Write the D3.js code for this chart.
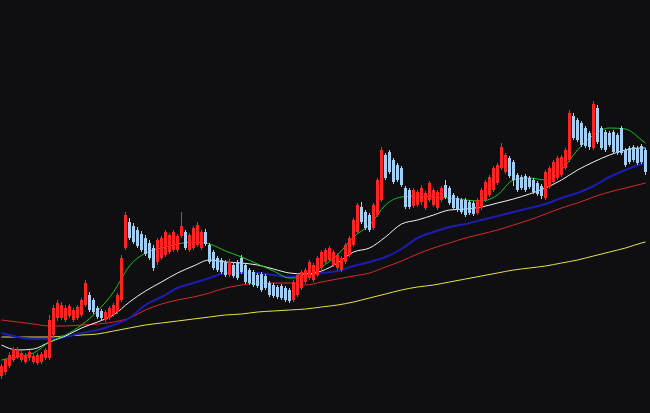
<!DOCTYPE html>
<html><head><meta charset="utf-8">
<script src="https://cdn.jsdelivr.net/npm/d3@7"></script>
<style>html,body{margin:0;padding:0;background:#0f0f12;overflow:hidden}</style>
</head><body>
<svg id="c" width="650" height="413"></svg>
<script>
// OHLC candles (price units)
const open  = [3.7,4.1,4.7,5.3,5.6,5.3,5.1,5.5,5.1,5.0,5.1,5.5,5.5,7.8,9.5,9.5,9.3,9.7,9.3,9.5,9.8,10.8,11.8,11.3,10.5,10.2,9.3,9.5,9.8,10.1,11.3,16.5,19.1,18.7,18.3,17.9,17.5,17.0,16.5,15.1,15.5,15.8,16.1,16.3,16.3,17.7,18.1,16.3,16.5,16.8,16.5,18.1,16.8,16.1,15.5,15.3,15.1,13.8,14.8,15.1,15.5,14.8,14.3,14.1,13.8,13.9,13.7,13.0,12.8,12.6,12.7,12.5,12.3,11.3,11.8,12.5,13.1,13.5,13.3,13.8,14.5,15.1,15.3,14.8,14.5,14.3,15.1,15.8,16.8,18.1,20.6,20.1,19.8,18.5,19.8,21.3,25.8,26.1,25.3,24.8,24.5,22.5,22.3,20.7,20.8,21.1,20.5,21.3,20.8,20.5,21.3,22.8,22.5,21.8,21.5,21.3,21.3,21.1,21.0,20.0,20.5,21.3,21.8,22.3,23.0,24.5,24.1,25.5,25.1,23.8,23.6,23.7,23.5,23.3,23.0,22.7,21.5,22.6,23.1,23.5,23.8,24.5,25.3,29.7,29.3,29.0,28.5,28.0,26.5,30.5,28.5,28.1,28.0,28.1,27.8,28.5,26.3,26.5,26.6,26.5,26.7,26.3];
const high  = [4.9,5.5,6.1,6.6,6.6,6.2,6.0,6.3,5.9,6.0,6.1,6.5,9.8,10.8,11.3,11.1,10.8,10.9,10.5,10.8,11.5,13.3,12.1,11.5,10.7,10.4,10.3,10.7,11.0,12.0,15.8,20.1,19.5,19.0,18.6,18.2,17.8,17.3,16.8,17.5,17.7,18.3,18.0,18.3,17.9,20.1,18.3,18.0,18.7,19.1,18.3,18.4,17.0,16.3,15.7,15.5,15.3,15.4,15.0,15.3,15.8,15.0,14.5,14.3,14.0,14.1,13.9,13.2,13.0,12.8,12.9,12.7,12.5,13.3,14.0,14.3,14.5,15.3,15.0,15.7,16.3,16.5,16.7,16.3,16.0,15.7,17.0,17.7,19.5,21.0,21.1,20.3,20.0,21.0,23.5,26.6,26.0,26.3,25.5,25.0,24.7,22.7,22.5,22.5,22.3,22.8,22.2,23.2,22.5,22.3,22.7,23.3,22.7,22.0,21.7,21.5,21.5,21.3,21.2,21.5,22.5,23.3,23.8,24.7,25.0,27.0,26.0,25.7,25.3,24.0,23.8,23.9,23.7,23.5,23.2,22.9,24.3,24.7,25.3,25.7,25.8,26.5,30.3,30.0,29.5,29.2,28.7,28.2,31.2,30.8,28.7,28.3,28.2,28.3,28.0,28.7,26.5,26.7,26.8,26.7,26.9,26.5];
const low   = [3.4,3.8,4.5,5.1,5.4,5.1,4.9,5.2,4.9,4.8,4.9,5.3,5.3,7.5,9.2,9.3,9.1,9.5,9.1,9.3,9.6,10.6,10.1,9.9,9.4,9.3,9.1,9.3,9.6,9.9,11.1,16.3,17.3,16.9,16.5,16.1,15.7,15.3,14.2,14.8,15.3,15.6,15.9,16.1,16.1,17.5,16.3,16.1,16.3,16.6,16.3,16.7,14.9,14.3,14.1,13.9,13.6,13.6,13.5,13.3,13.9,12.9,12.8,12.6,12.5,12.1,12.3,11.6,11.5,11.4,11.3,11.1,11.0,11.1,11.6,12.3,12.9,13.3,13.1,13.6,14.3,14.9,15.1,14.6,14.3,14.1,14.9,15.6,16.6,17.9,18.9,18.3,18.1,18.3,19.6,21.1,23.3,23.9,22.9,23.1,22.6,20.4,20.4,20.5,20.6,20.8,20.3,21.1,20.6,20.3,21.1,21.4,20.8,20.3,20.1,19.9,19.6,19.8,19.7,19.8,20.3,21.1,21.6,22.1,22.8,24.3,23.9,23.5,22.7,22.1,22.3,22.1,22.4,21.9,21.7,21.4,21.3,22.4,22.9,23.3,23.6,24.3,25.1,27.3,27.1,26.6,26.5,26.3,26.3,26.9,26.3,26.1,26.6,25.9,25.8,25.8,24.6,24.9,25.1,24.8,24.9,23.8];
const close = [4.7,5.3,5.8,6.4,6.3,6.0,5.8,6.1,5.7,5.8,5.9,6.3,9.3,10.5,11.0,10.8,10.5,10.7,10.3,10.6,11.3,13.0,10.3,10.1,9.6,9.5,10.1,10.5,10.8,11.8,15.5,19.8,17.5,17.1,16.7,16.3,15.9,15.5,14.5,17.3,17.5,18.1,17.8,18.1,17.7,18.7,16.5,17.8,18.5,18.8,18.1,16.9,15.1,14.5,14.3,14.1,13.8,15.1,13.7,13.5,14.1,13.1,13.0,12.8,12.7,12.3,12.5,11.8,11.7,11.6,11.5,11.3,11.2,13.1,13.8,14.1,14.3,15.1,14.8,15.5,16.1,16.3,16.5,16.1,15.8,15.5,16.8,17.5,19.3,20.8,19.1,18.5,18.3,20.8,23.3,26.3,23.5,24.1,23.1,23.3,22.8,20.6,20.6,22.3,22.1,22.5,22.0,23.0,22.3,22.1,22.5,21.6,21.0,20.5,20.3,20.1,19.8,20.0,19.9,21.3,22.3,23.1,23.6,24.5,24.8,26.6,25.8,23.7,23.3,22.3,22.5,22.3,22.6,22.1,21.9,21.7,24.1,24.5,25.1,25.5,25.6,26.3,30.0,27.5,27.3,26.8,26.7,26.6,30.9,27.1,26.5,26.3,26.8,26.1,26.0,26.0,24.8,25.1,25.3,25.0,25.1,24.1];

// moving averages sampled at candle indices
const maIndex = [0,4,8,12,16,20,24,28,32,36,40,44,48,52,56,60,64,68,72,76,80,84,88,92,96,100,104,108,112,116,120,124,128,132,136,140,144,148,152,156,160,161];
const maGreen  = [5.3,5.6,6.0,7.1,7.8,8.8,10.2,12.1,14.7,16.0,16.5,16.9,17.1,16.9,16.2,15.6,14.9,14.2,13.5,13.6,14.6,15.8,17.6,18.8,20.8,21.6,21.7,21.6,21.5,21.3,21.2,21.8,23.3,23.5,23.3,24.3,26.3,27.8,28.5,28.4,27.3,27.0];
const maWhite  = [6.8,6.3,6.4,7.1,7.7,8.5,9.1,9.8,11.1,12.2,13.1,14.0,14.7,15.3,15.1,15.0,14.8,14.4,14.0,13.9,14.2,15.0,16.1,16.5,17.6,18.9,19.3,19.8,20.3,20.4,20.6,21.0,21.4,21.9,22.5,23.3,24.3,25.1,25.8,26.3,26.5,26.5];
const maBlue   = [8.0,7.6,7.4,7.4,7.6,8.0,8.3,8.8,9.5,10.8,11.6,12.5,13.0,13.5,14.0,14.0,14.0,13.8,13.6,13.8,14.0,14.2,14.7,15.1,15.6,16.4,17.5,18.1,18.6,18.9,19.3,19.7,20.1,20.5,20.9,21.5,22.0,22.7,23.6,24.3,24.9,25.0];
const maRed    = [9.3,9.1,8.9,8.7,8.7,8.8,8.9,9.1,9.5,10.3,10.9,11.3,11.6,12.0,12.5,12.8,13.0,13.0,13.0,12.8,13.1,13.4,13.7,14.0,14.6,15.2,15.9,16.5,17.0,17.5,17.9,18.3,18.8,19.3,19.9,20.5,21.0,21.6,22.1,22.5,22.9,23.0];
const maYellow = [7.6,7.6,7.6,7.6,7.7,7.8,7.9,8.2,8.5,8.8,9.0,9.2,9.4,9.6,9.8,9.9,10.1,10.2,10.3,10.4,10.6,10.8,11.1,11.5,11.9,12.3,12.6,12.8,13.1,13.4,13.7,14.0,14.3,14.5,14.7,15.0,15.3,15.7,16.1,16.5,17.0,17.1];

const W = 650, H = 413;
const UP = "#ff2424", DOWN = "#a4cff4";
const candles = open.map((o, i) => ({i, o, h: high[i], l: low[i], c: close[i]}));

const x = d3.scaleBand().domain(d3.range(candles.length)).range([-0.5, 647.5]).paddingInner(0.25).paddingOuter(0.125);
const y = d3.scaleLinear().domain([0, 41.3]).range([H, 0]);
const cx = i => x(i) + x.bandwidth() / 2;

const svg = d3.select("#c");
svg.append("rect").attr("width", W).attr("height", H).attr("fill", "#0f0f12");

const mas = [
  {v: maYellow, color: "#e6e24a", w: 1},
  {v: maRed, color: "#d42a2a", w: 1},
  {v: maBlue, color: "#1c1cb4", w: 2},
  {v: maWhite, color: "#f2f2f2", w: 1},
  {v: maGreen, color: "#1fc21f", w: 1}
];
const line = d3.line().x(d => cx(d[0])).y(d => y(d[1])).curve(d3.curveMonotoneX);
svg.append("g").selectAll("path").data(mas).join("path")
  .attr("d", m => line(maIndex.map((k, j) => [k, m.v[j]])))
  .attr("fill", "none").attr("stroke", m => m.color).attr("stroke-width", m => m.w);

const g = svg.append("g").attr("shape-rendering", "crispEdges");
const cg = g.selectAll("g").data(candles).join("g")
  .attr("fill", d => d.c >= d.o ? UP : DOWN).attr("stroke", d => d.c >= d.o ? UP : DOWN);
cg.append("line")
  .attr("x1", d => cx(d.i)).attr("x2", d => cx(d.i))
  .attr("y1", d => y(d.h)).attr("y2", d => y(d.l)).attr("stroke-width", 1);
cg.append("rect")
  .attr("x", d => x(d.i)).attr("width", x.bandwidth())
  .attr("y", d => y(Math.max(d.o, d.c))).attr("height", d => Math.max(1, Math.abs(y(d.o) - y(d.c))))
  .attr("stroke", "none");
</script>
</body></html>
